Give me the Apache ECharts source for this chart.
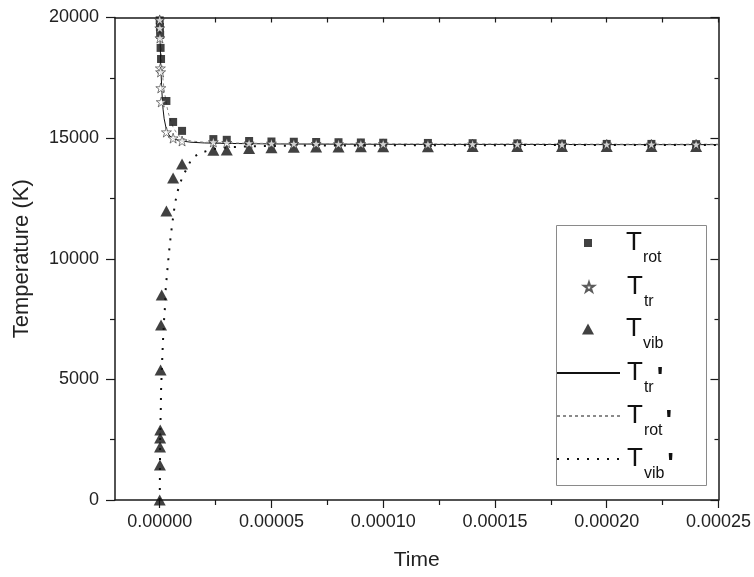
<!DOCTYPE html>
<html>
<head>
<meta charset="utf-8">
<script src="https://cdn.jsdelivr.net/npm/echarts@6/dist/echarts.min.js"></script>
<style>
  html, body { margin: 0; padding: 0; background: #fff; }
  #chart { width: 754px; height: 577px; }
</style>
</head>
<body>
<div id="chart"></div>
<script>
// Tick positions on the time axis
const xMajorTicks = [0, 0.00005, 0.0001, 0.00015, 0.0002, 0.00025];
const xMinorTicks = [0.000025, 0.000075, 0.000125, 0.000175, 0.000225];

// Rotational temperature (squares)
const trotTime = [0, 1e-7, 2e-7, 4e-7, 6e-7, 3e-6, 6e-6, 1e-5, 2.4e-5, 3e-5, 4e-5, 5e-5, 6e-5, 7e-5, 8e-5, 9e-5, 1e-4, 1.2e-4, 1.4e-4, 1.6e-4, 1.8e-4, 2e-4, 2.2e-4, 2.4e-4];
const trotVal  = [19880, 19600, 19280, 18740, 18280, 16540, 15670, 15300, 14960, 14930, 14880, 14860, 14850, 14840, 14830, 14820, 14810, 14800, 14790, 14780, 14770, 14760, 14760, 14750];

// Translational temperature (stars)
const ttrTime = [0, 5e-8, 1e-7, 3e-7, 4e-7, 5e-7, 7e-7, 3e-6, 6e-6, 1e-5, 2.4e-5, 3e-5, 4e-5, 5e-5, 6e-5, 7e-5, 8e-5, 9e-5, 1e-4, 1.2e-4, 1.4e-4, 1.6e-4, 1.8e-4, 2e-4, 2.2e-4, 2.4e-4];
const ttrVal  = [19900, 19560, 19150, 17900, 17740, 17080, 16500, 15250, 15000, 14880, 14840, 14810, 14790, 14780, 14770, 14770, 14760, 14760, 14760, 14750, 14750, 14750, 14740, 14740, 14740, 14740];

// Vibrational temperature (triangles)
const tvibTime = [0, 1e-7, 1.5e-7, 2e-7, 2.5e-7, 4e-7, 6e-7, 9e-7, 3e-6, 6e-6, 1e-5, 2.4e-5, 3e-5, 4e-5, 5e-5, 6e-5, 7e-5, 8e-5, 9e-5, 1e-4, 1.2e-4, 1.4e-4, 1.6e-4, 1.8e-4, 2e-4, 2.2e-4, 2.4e-4];
const tvibVal  = [0, 1450, 2200, 2570, 2900, 5390, 7250, 8500, 11980, 13350, 13930, 14500, 14510, 14570, 14600, 14620, 14630, 14630, 14640, 14640, 14640, 14650, 14650, 14650, 14650, 14650, 14650];

// Model curves
const curveTime   = [0, 2e-7, 5e-7, 1e-6, 1.5e-6, 2e-6, 3e-6, 4e-6, 5e-6, 6e-6, 8e-6, 1e-5, 1.4e-5, 2e-5, 3e-5, 5e-5, 8e-5, 1.2e-4, 1.6e-4, 2e-4, 2.5e-4];
const ttrCurve    = [20000, 19000, 17900, 16900, 16200, 15800, 15350, 15150, 15050, 14980, 14920, 14880, 14830, 14800, 14780, 14760, 14750, 14740, 14740, 14730, 14730];
const trotCurve   = [20000, 19500, 18900, 18000, 17400, 17000, 16400, 16000, 15700, 15450, 15150, 15000, 14880, 14830, 14800, 14780, 14770, 14760, 14760, 14750, 14750];
const tvibCurveTime = [0, 5e-8, 2e-7, 5e-7, 6e-7, 9e-7, 1.2e-6, 1.5e-6, 2e-6, 2.3e-6, 2.7e-6, 3e-6, 3.4e-6, 3.8e-6, 4.2e-6, 5e-6, 6.4e-6, 7.2e-6, 8.3e-6, 1e-5, 1.45e-5, 1.8e-5, 2.4e-5, 3e-5, 4e-5, 6e-5, 1e-4, 1.6e-4, 2.5e-4];
const tvibCurve     = [0, 400, 2570, 3810, 4520, 5300, 6000, 6650, 7540, 7920, 8750, 9080, 9490, 9910, 10300, 11000, 12000, 12450, 12900, 13350, 14180, 14380, 14550, 14620, 14660, 14690, 14700, 14710, 14710];

const pairs = (t, v) => t.map((x, i) => [x, v[i]]);

const FONT = "'Liberation Sans', Arial, sans-serif";
const starPath = 'path://M50,2 L61.2,36.5 L97.6,36.5 L68.2,57.9 L79.4,92.5 L50,71.1 L20.6,92.5 L31.8,57.9 L2.4,36.5 L38.8,36.5 Z';

// Legend entries: series name, subscript, primed
const legendItems = [
  { name: 'Trot',  sub: 'rot', prime: false, iconW: 8,  iconH: 8,  cy: 243 },
  { name: 'Ttr',   sub: 'tr',  prime: false, iconW: 10, iconH: 10, cy: 287 },
  { name: 'Tvib',  sub: 'vib', prime: false, iconW: 12, iconH: 11, cy: 329 },
  { name: "Ttr'",  sub: 'tr',  prime: true,  iconW: 63, iconH: 10, cy: 373 },
  { name: "Trot'", sub: 'rot', prime: true,  iconW: 63, iconH: 10, cy: 416 },
  { name: "Tvib'", sub: 'vib', prime: true,  iconW: 63, iconH: 10, cy: 459 }
];

const SUB_PAD = 30;
const LINE_H = SUB_PAD + 16;
const legends = legendItems.map(it => {
  const isLine = it.iconW > 20;
  const left = isLine ? 556 : 588 - it.iconW / 2;
  const textStart = left + it.iconW + 5;
  const padLeft = Math.max(0, 626 - textStart);
  const lg = {
    data: [it.name],
    left: left,
    top: it.cy - LINE_H / 2,
    orient: 'vertical',
    padding: 0,
    itemWidth: it.iconW,
    itemHeight: it.iconH,
    selectedMode: false,
    formatter: () => '{t|T}{s|' + it.sub + '}' + (it.prime ? "{p|'}" : ''),
    textStyle: {
      color: '#111',
      fontFamily: FONT,
      rich: {
        t: { fontSize: 26, lineHeight: 30, fontFamily: FONT, color: '#111', verticalAlign: 'middle', padding: [0, 0, 0, padLeft] },
        s: { fontSize: 16, lineHeight: 16, fontFamily: FONT, color: '#111', verticalAlign: 'middle', padding: [SUB_PAD, 0, 0, 1] },
        p: { fontSize: 28, lineHeight: 28, fontFamily: FONT, fontWeight: 'bold', color: '#111', verticalAlign: 'middle', padding: [10, 0, 0, 3] }
      }
    }
  };
  if (isLine) {
    // line entries show only the stroke, no point marker
    lg.itemStyle = { opacity: 0 };
  }
  return lg;
});

const axisLineStyle = { color: '#1a1a1a', width: 1.5 };
const tickLine = { color: '#1a1a1a', width: 1.2 };
const labelStyle = { color: '#222', fontSize: 18, fontFamily: FONT };

const option = {
  backgroundColor: '#ffffff',
  animation: false,
  grid: { left: 115, right: 34, top: 17.5, bottom: 77, containLabel: false },
  xAxis: [
    {
      type: 'value', position: 'bottom', min: -0.00002, max: 0.00025,
      axisLine: { show: true, onZero: false, lineStyle: axisLineStyle },
      axisTick: { show: true, inside: false, length: 8, customValues: xMajorTicks, lineStyle: tickLine },
      axisLabel: { show: true, customValues: xMajorTicks, margin: 13, formatter: v => v.toFixed(5), ...labelStyle },
      splitLine: { show: false },
      name: 'Time', nameLocation: 'middle', nameGap: 50,
      nameTextStyle: { color: '#222', fontSize: 21, fontFamily: FONT }
    },
    {
      type: 'value', position: 'bottom', min: -0.00002, max: 0.00025,
      axisLine: { show: false, onZero: false },
      axisTick: { show: true, inside: false, length: 5, customValues: xMinorTicks, lineStyle: tickLine },
      axisLabel: { show: false },
      splitLine: { show: false }
    },
    {
      type: 'value', position: 'top', min: -0.00002, max: 0.00025,
      axisLine: { show: true, onZero: false, lineStyle: axisLineStyle },
      axisTick: { show: true, inside: true, length: 5, customValues: xMajorTicks.concat(xMinorTicks), lineStyle: tickLine },
      axisLabel: { show: false },
      splitLine: { show: false }
    }
  ],
  yAxis: [
    {
      type: 'value', position: 'left', min: 0, max: 20000, interval: 5000,
      axisLine: { show: true, onZero: false, lineStyle: axisLineStyle },
      axisTick: { show: true, inside: false, length: 9, lineStyle: tickLine },
      minorTick: { show: true, splitNumber: 2, length: 5, lineStyle: tickLine },
      axisLabel: { show: true, margin: 16, formatter: v => String(v), ...labelStyle },
      splitLine: { show: false },
      name: 'Temperature (K)', nameLocation: 'middle', nameGap: 82, nameRotate: 90,
      nameTextStyle: { color: '#222', fontSize: 22, fontFamily: FONT }
    },
    {
      type: 'value', position: 'right', min: 0, max: 20000, interval: 5000,
      axisLine: { show: true, onZero: false, lineStyle: axisLineStyle },
      axisTick: { show: true, inside: true, length: 8, lineStyle: tickLine },
      minorTick: { show: true, splitNumber: 2, length: 4, lineStyle: tickLine },
      axisLabel: { show: false },
      splitLine: { show: false }
    }
  ],
  legend: legends,
  graphic: [
    { type: 'rect', left: 554, top: 223, shape: { width: 150, height: 260 }, style: { fill: 'none', stroke: '#8a8a8a', lineWidth: 1 }, z: 1 }
  ],
  series: [
    {
      name: "Ttr'", type: 'line', data: pairs(curveTime, ttrCurve), showSymbol: false, symbol: 'none',
      lineStyle: { color: '#111', width: 1 }, itemStyle: { color: '#111' }, z: 2
    },
    {
      name: "Trot'", type: 'line', data: pairs(curveTime, trotCurve), showSymbol: false, symbol: 'none',
      lineStyle: { color: '#8a8a8a', width: 1, type: [3, 3] }, itemStyle: { color: '#8a8a8a' }, z: 2
    },
    {
      name: "Tvib'", type: 'line', data: pairs(tvibCurveTime, tvibCurve), showSymbol: false, symbol: 'none',
      lineStyle: { color: '#111', width: 2, type: [2, 8] }, itemStyle: { color: '#111' }, z: 2
    },
    {
      name: 'Tvib', type: 'scatter', data: pairs(tvibTime, tvibVal), symbol: 'triangle', symbolSize: [12, 11],
      itemStyle: { color: '#111' }, z: 3
    },
    {
      name: 'Trot', type: 'scatter', data: pairs(trotTime, trotVal), symbol: 'rect', symbolSize: 8,
      itemStyle: { color: '#111' }, z: 4
    },
    {
      name: 'Ttr', type: 'scatter', data: pairs(ttrTime, ttrVal), symbol: starPath, symbolSize: 10,
      itemStyle: { color: '#fff', borderColor: '#333', borderWidth: 0.8 }, z: 5
    }
  ]
};

const chart = echarts.init(document.getElementById('chart'), null, { renderer: 'canvas' });
chart.setOption(option);
</script>
</body>
</html>
